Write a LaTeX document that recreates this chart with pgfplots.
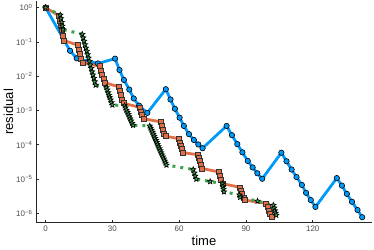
\documentclass[border=0pt]{standalone}
\usepackage{fontspec}
\setmainfont{Liberation Sans}
\usepackage{pgfplots}
\pgfplotsset{compat=1.18}
\definecolor{c1}{HTML}{009AFA}
\definecolor{c2}{HTML}{E26F46}
\definecolor{c3}{HTML}{3EA44E}
\definecolor{tk}{HTML}{4D4D4D}
\pgfdeclareplotmark{fstar}{%
  \pgfpathmoveto{\pgfqpointpolar{90}{\pgfplotmarksize}}%
  \pgfpathlineto{\pgfqpointpolar{126}{0.45\pgfplotmarksize}}%
  \pgfpathlineto{\pgfqpointpolar{162}{\pgfplotmarksize}}%
  \pgfpathlineto{\pgfqpointpolar{198}{0.45\pgfplotmarksize}}%
  \pgfpathlineto{\pgfqpointpolar{234}{\pgfplotmarksize}}%
  \pgfpathlineto{\pgfqpointpolar{270}{0.45\pgfplotmarksize}}%
  \pgfpathlineto{\pgfqpointpolar{306}{\pgfplotmarksize}}%
  \pgfpathlineto{\pgfqpointpolar{342}{0.45\pgfplotmarksize}}%
  \pgfpathlineto{\pgfqpointpolar{18}{\pgfplotmarksize}}%
  \pgfpathlineto{\pgfqpointpolar{54}{0.45\pgfplotmarksize}}%
  \pgfpathclose
  \pgfusepathqfillstroke}
\begin{document}
\begin{tikzpicture}[x=1pt,y=1pt]
\begin{axis}[
  at={(0,0)}, anchor=south west,
  scale only axis, width=336pt, height=221.7pt,
  xmin=-4.3, xmax=146.6, ymin=-6.27, ymax=0.19,
  axis lines=left, axis line style={-, line width=0.8pt, black!85},
  tick align=inside, major tick length=3pt,
  tick style={line width=0.6pt, black!85},
  xtick={0,30,60,90,120},
  ytick={0,-1,-2,-3,-4,-5,-6},
  yticklabels={10\textsuperscript{0},10\textsuperscript{−1},10\textsuperscript{−2},10\textsuperscript{−3},10\textsuperscript{−4},10\textsuperscript{−5},10\textsuperscript{−6}},
  /pgf/number format/assume math mode=true,
  ticklabel style={font=\fontsize{8}{9}\selectfont, text=tk},
  xlabel={time}, ylabel={residual},
  label style={font=\fontsize{13}{14}\selectfont},
  xlabel style={yshift=3pt},
  ylabel style={yshift=-4pt},
  clip=false,
]
% blue
\addplot[c1, line width=2.8pt, mark=*, mark size=2.7pt,
  mark options={fill=c1, draw=black, line width=0.6pt}] coordinates {
(0,0) (11.0,-1.26) (14.0,-1.48) (23.5,-1.63) (31.2,-1.49) (33.2,-1.82) (35.2,-2.11)
(37.6,-2.39) (39.6,-2.65) (42.0,-2.86) (45.7,-3.07) (54.0,-2.38) (56.1,-2.68)
(58.1,-2.95) (60.2,-3.21) (62.1,-3.45) (64.4,-3.69) (66.6,-3.86) (68.6,-3.99)
(70.5,-4.10) (81.3,-3.45) (83.7,-3.72) (86.1,-3.98) (88.4,-4.22) (90.8,-4.47)
(93.0,-4.66) (95.1,-4.83) (97.3,-4.99) (105.9,-4.23) (108.2,-4.48) (110.5,-4.72)
(112.7,-4.94) (115.1,-5.17) (117.0,-5.40) (119.1,-5.61) (121.2,-5.81)
(130.8,-4.97) (133.1,-5.19) (135.3,-5.43) (137.6,-5.66) (140.1,-5.90) (142.2,-6.11)
};
% orange
\addplot[c2, line width=2.8pt, mark=square*, mark size=2.5pt,
  mark options={fill=c2, draw=black!80, line width=0.6pt}] coordinates {
(0,0)
(6.0,-0.24) (6.6,-0.38) (7.0,-0.52) (7.3,-0.66) (7.8,-0.82) (8.2,-0.96)
(14.3,-1.09) (14.8,-1.24) (15.4,-1.36) (16.0,-1.49) (16.7,-1.61)
(24.3,-1.71) (24.8,-1.84) (25.4,-1.97) (26.0,-2.08) (26.6,-2.19)
(32.9,-2.31) (33.3,-2.43) (33.9,-2.55) (34.4,-2.68) (35.0,-2.79)
(42.3,-2.91) (42.9,-3.03) (43.3,-3.13) (43.9,-3.24)
(51.6,-3.33) (52.0,-3.45) (52.8,-3.57) (53.2,-3.67) (53.9,-3.75)
(59.8,-3.82) (60.3,-3.93) (60.8,-4.03) (61.4,-4.13) (61.8,-4.23)
(68.5,-4.29) (69.0,-4.38) (69.3,-4.48) (69.7,-4.57) (70.2,-4.69)
(77.8,-4.79) (78.3,-4.90) (78.8,-5.03) (79.4,-5.13)
(87.3,-5.24) (87.8,-5.34) (88.2,-5.44) (88.8,-5.53) (89.4,-5.61)
(99.0,-5.71) (99.6,-5.81) (100.2,-5.91) (100.8,-6.00) (101.4,-6.10)
};
% green
\addplot[c3, line width=3pt, dash pattern=on 3pt off 5pt, mark=fstar, mark size=2.8pt,
  mark options={solid, fill=c3, draw=black, line width=0.6pt}] coordinates {
(0,0)
(6.6,-0.22) (6.9,-0.32) (7.2,-0.43) (7.5,-0.54) (7.8,-0.64)
(16.5,-0.78) (16.9,-0.88) (17.3,-0.98) (17.7,-1.08) (18.1,-1.18) (18.5,-1.27)
(18.9,-1.37) (19.3,-1.47) (19.7,-1.57) (20.1,-1.67) (20.5,-1.77) (20.9,-1.87)
(21.3,-1.96) (21.7,-2.06) (22.1,-2.16) (22.5,-2.26)
(27.3,-2.33) (27.7,-2.40) (28.1,-2.48) (28.5,-2.55) (28.8,-2.62) (29.2,-2.69) (29.6,-2.77) (30.0,-2.84)
(35.5,-2.86) (35.9,-2.92) (36.3,-2.99) (36.8,-3.05) (37.2,-3.11) (37.6,-3.18)
(38.0,-3.24) (38.4,-3.30) (38.9,-3.37) (39.3,-3.43)
(46.8,-3.45) (47.2,-3.51) (47.6,-3.57) (48.0,-3.63) (48.4,-3.69) (48.8,-3.75)
(49.2,-3.81) (49.6,-3.87) (49.9,-3.93) (50.3,-3.99) (50.7,-4.05) (51.1,-4.11)
(51.5,-4.17) (51.9,-4.23) (52.3,-4.29) (52.7,-4.35) (53.1,-4.41) (53.5,-4.47)
(53.9,-4.53) (54.3,-4.59)
(66.3,-4.72) (66.8,-4.82) (67.2,-4.91) (67.7,-5.00)
(73.9,-5.07)
(79.5,-5.13) (79.7,-5.21) (79.9,-5.29) (80.1,-5.37)
(87.1,-5.46) (87.4,-5.53)
(95.2,-5.64)
(102.3,-5.76) (102.7,-5.84) (103.0,-5.92) (103.3,-5.99) (103.6,-6.05)
};
\end{axis}
\pgfresetboundingbox
\useasboundingbox (-36,-26.3) rectangle (338,222.7);
\end{tikzpicture}
\end{document}
